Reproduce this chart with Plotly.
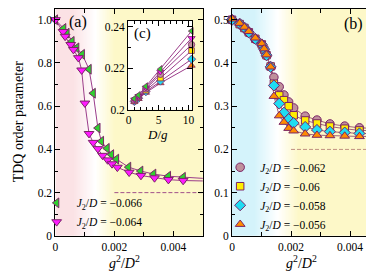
import numpy as np
import plotly.graph_objects as go

# ---------------- data ----------------
# panel (a): g^2/D^2 vs TDQ order parameter
a_x_066 = [0, 0.00028, 0.00039, 0.00056, 0.00072, 0.00091, 0.00114, 0.00128, 0.00144, 0.00156,
           0.00175, 0.0019, 0.00207, 0.00248, 0.00289, 0.00333, 0.00383, 0.00433]
a_y_066 = [1.0, 0.96, 0.938, 0.90, 0.87, 0.84, 0.771, 0.66, 0.499, 0.438,
           0.405, 0.376, 0.355, 0.318, 0.30, 0.286, 0.276, 0.271]
a_x_064 = [0, 0.00026, 0.00033, 0.00052, 0.00061, 0.00078, 0.00089, 0.001, 0.00114, 0.00128,
           0.00144, 0.0016, 0.00177, 0.00192, 0.0021, 0.0025, 0.0029, 0.00336, 0.00383, 0.00433]
a_y_064 = [1.0, 0.945, 0.923, 0.885, 0.862, 0.824, 0.767, 0.614, 0.473, 0.432,
           0.403, 0.372, 0.351, 0.333, 0.317, 0.294, 0.279, 0.268, 0.26, 0.256]
a_tail_x = 0.005
a_tail_y = {"066": 0.266, "064": 0.254}

# panel (b)
b_x = [0, 0.00026, 0.00042, 0.00057, 0.00079, 0.00101, 0.00109, 0.00117, 0.00131,
       0.00142, 0.0016, 0.00176, 0.00192, 0.00209, 0.00248, 0.00288, 0.00332, 0.00382, 0.00432]
b_y_062 = [0.5, 0.490, 0.481, 0.470, 0.455, 0.442, 0.431, 0.417, 0.392,
           0.367, 0.345, 0.326, 0.31, 0.296, 0.277, 0.268, 0.259, 0.254, 0.25]
b_y_060 = [0.5, 0.490, 0.481, 0.471, 0.456, 0.443, 0.431, 0.418, 0.392,
           0.352, 0.325, 0.314, 0.300, 0.279, 0.267, 0.26, 0.253, 0.248, 0.244]
b_y_058 = [0.5, 0.491, 0.482, 0.471, 0.456, 0.443, 0.432, 0.418, 0.391,
           0.348, 0.306, 0.285, 0.27, 0.261, 0.252, 0.245, 0.241, 0.239, 0.237]
b_y_056 = [0.502, 0.492, 0.483, 0.473, 0.458, 0.445, 0.433, 0.419, 0.391,
           0.323, 0.278, 0.263, 0.249, 0.243, 0.236, 0.233, 0.232, 0.231, 0.23]
b_tail_y = {"062": 0.248, "060": 0.243, "058": 0.236, "056": 0.230}

ref_x = [0.002, 0.005]
ref_y = [0.2, 0.2]

# inset (c): D/g
c_x = [0.94, 1.65, 2.87, 5.3, 10.5]
c_y_066 = [0.2053, 0.2070, 0.2112, 0.2195, 0.2378]
c_y_064 = [0.2048, 0.2065, 0.2105, 0.2182, 0.2344]
c_y_062 = [0.2045, 0.2062, 0.2100, 0.2170, 0.2313]
c_y_060 = [0.2042, 0.2058, 0.2093, 0.2152, 0.2284]
c_y_058 = [0.2040, 0.2055, 0.2087, 0.2138, 0.2243]
c_y_056 = [0.2038, 0.2052, 0.2082, 0.2128, 0.2212]

a_xticks = [0, 0.002, 0.004]
a_xticktext = ["0", "0.002", "0.004"]
a_yticks = [0, 0.2, 0.4, 0.6, 0.8, 1.0]
a_yticktext = ["0", "0.2", "0.4", "0.6", "0.8", "1.0"]
b_yticks = [0, 0.1, 0.2, 0.3, 0.4, 0.5]
b_yticktext = ["0", "0.1", "0.2", "0.3", "0.4", "0.5"]
c_xticks = [0, 5, 10]
c_yticks = [0.2, 0.22, 0.24]
c_yticktext = ["0.2", "0.22", "0.24"]

labels = {"066": "\u22120.066", "064": "\u22120.064", "062": "\u22120.062",
          "060": "\u22120.06", "058": "\u22120.058", "056": "\u22120.056"}

# ---------------- style ----------------
W, H = 374, 271
FONT = "Liberation Serif"
OUT = "#7a2466"
LINE_A = "#9b3d8a"
LINE_B = "#a0607a"

styles = {
    "066": dict(symbol="triangle-left", color="#2fd02f", size=8.5),
    "064": dict(symbol="triangle-down", color="#ff1aff", size=8.5),
    "062": dict(symbol="circle", color="#c0909c", size=8.5),
    "060": dict(symbol="square", color="#ffee00", size=7.5),
    "058": dict(symbol="diamond", color="#1fdcf2", size=8.5),
    "056": dict(symbol="triangle-up", color="#ff8c00", size=8.5),
}


def lbl(k):
    return "<i>J</i><sub>2</sub>/<i>D</i> = " + labels[k]


fig = go.Figure()

# gradient backgrounds
edges = np.linspace(0, 0.005, 251)
mids = (edges[:-1] + edges[1:]) / 2
pink, cyan, white, yellow = "#fbe2e5", "#d4f3fb", "#ffffff", "#fdf8c8"
fig.add_trace(go.Heatmap(x=edges, y=[0, 1.05], z=[mids], zmin=0, zmax=0.005,
                         colorscale=[[0, pink], [0.12, pink], [0.27, white], [0.40, yellow], [1, yellow]],
                         showscale=False, hoverinfo="skip", xaxis="x", yaxis="y"))
fig.add_trace(go.Heatmap(x=edges, y=[0, 0.525], z=[mids], zmin=0, zmax=0.005,
                         colorscale=[[0, cyan], [0.15, cyan], [0.31, white], [0.45, yellow], [1, yellow]],
                         showscale=False, hoverinfo="skip", xaxis="x2", yaxis="y2"))

# reference dashed lines
fig.add_trace(go.Scatter(x=ref_x, y=ref_y, mode="lines", line=dict(color="#a0508a", width=1, dash="4px,2px"),
                         showlegend=False, hoverinfo="skip", xaxis="x", yaxis="y"))
fig.add_trace(go.Scatter(x=ref_x, y=ref_y, mode="lines", line=dict(color="#c09080", width=1, dash="4px,2px"),
                         showlegend=False, hoverinfo="skip", xaxis="x2", yaxis="y2"))

# panel (a)
a_series = [("066", a_x_066, a_y_066), ("064", a_x_064, a_y_064)]
for k, xs, ys in a_series:
    fig.add_trace(go.Scatter(x=xs + [a_tail_x], y=ys + [a_tail_y[k]], mode="lines",
                             line=dict(color=LINE_A, width=1), showlegend=False,
                             xaxis="x", yaxis="y"))
for k, xs, ys in a_series:
    s = styles[k]
    fig.add_trace(go.Scatter(x=xs, y=ys, mode="markers", name=lbl(k), legend="legend",
                             marker=dict(symbol=s["symbol"], color=s["color"], size=s["size"],
                                         line=dict(color=OUT, width=1)),
                             cliponaxis=False, xaxis="x", yaxis="y"))

# panel (b)
b_series = [("062", b_y_062), ("060", b_y_060), ("058", b_y_058), ("056", b_y_056)]
for k, ys in b_series:
    fig.add_trace(go.Scatter(x=b_x + [a_tail_x], y=ys + [b_tail_y[k]], mode="lines",
                             line=dict(color=LINE_B, width=1), showlegend=False,
                             xaxis="x2", yaxis="y2"))
for k, ys in b_series:
    s = styles[k]
    fig.add_trace(go.Scatter(x=b_x, y=ys, mode="markers", name=lbl(k), legend="legend2",
                             marker=dict(symbol=s["symbol"], color=s["color"], size=s["size"],
                                         line=dict(color=OUT, width=1)),
                             cliponaxis=False, xaxis="x2", yaxis="y2"))

# inset (c)
c_series = [("056", c_y_056), ("058", c_y_058), ("060", c_y_060),
            ("062", c_y_062), ("064", c_y_064), ("066", c_y_066)]
for k, ys in c_series:
    s = styles[k]
    fig.add_trace(go.Scatter(x=c_x, y=ys, mode="lines+markers", showlegend=False,
                             line=dict(color=LINE_A, width=1),
                             marker=dict(symbol=s["symbol"], color=s["color"], size=s["size"] * 0.75,
                                         line=dict(color=OUT, width=0.8)),
                             cliponaxis=False, xaxis="x3", yaxis="y3"))


def px(v):
    return v / W


def py(v):
    return 1 - v / H


axis_common = dict(showline=True, linecolor="black", linewidth=1, mirror="ticks",
                   ticks="inside", ticklen=5, tickcolor="black", tickwidth=1,
                   showgrid=False, zeroline=False,
                   tickfont=dict(family=FONT, size=11.5, color="black"))


def ann(text, x, y, size, xref="paper", **kw):
    return dict(text=text, xref=xref, yref="paper", x=x, y=y, xanchor="center", yanchor="middle",
                showarrow=False, font=dict(family=FONT, size=size, color="black"), **kw)


gtitle = "<i>g</i><sup>2</sup>/<i>D</i><sup>2</sup>"

fig.update_layout(
    width=W, height=H, margin=dict(l=0, r=0, t=0, b=0),
    paper_bgcolor="white", plot_bgcolor="white",
    font=dict(family=FONT, color="black"),
    xaxis=dict(domain=[px(45), px(194.5)], range=[0, 0.005], anchor="y",
               tickmode="array", tickvals=a_xticks, ticktext=a_xticktext,
               minor=dict(tickmode="linear", tick0=0, dtick=0.001, ticks="inside", ticklen=4, tickcolor="black"),
               **axis_common),
    yaxis=dict(domain=[py(233), py(1)], range=[0, 1.05], anchor="x",
               tickmode="array", tickvals=a_yticks, ticktext=a_yticktext,
               minor=dict(tickmode="linear", tick0=0, dtick=0.1, ticks="inside", ticklen=3, tickcolor="black"),
               **axis_common),
    xaxis2=dict(domain=[px(224), px(373.5)], range=[0, 0.005], anchor="y2",
                tickmode="array", tickvals=a_xticks, ticktext=a_xticktext,
                minor=dict(tickmode="linear", tick0=0, dtick=0.001, ticks="inside", ticklen=4, tickcolor="black"),
                **axis_common),
    yaxis2=dict(domain=[py(233), py(1)], range=[0, 0.525], anchor="x2",
                tickmode="array", tickvals=b_yticks, ticktext=b_yticktext,
                minor=dict(tickmode="linear", tick0=0, dtick=0.05, ticks="inside", ticklen=3, tickcolor="black"),
                **axis_common),
    xaxis3=dict(domain=[px(118.7), px(183.6)], range=[-0.1, 10.6], anchor="y3",
                tickmode="array", tickvals=c_xticks,
                minor=dict(tickmode="linear", tick0=0, dtick=1, ticks="inside", ticklen=3, tickcolor="black"),
                **axis_common),
    yaxis3=dict(domain=[py(104), py(13)], range=[0.2, 0.2428], anchor="x3",
                tickmode="array", tickvals=c_yticks, ticktext=c_yticktext,
                minor=dict(tickmode="linear", tick0=0.2, dtick=0.01, ticks="inside", ticklen=3, tickcolor="black"),
                **axis_common),
    legend=dict(x=px(26), y=py(209), xanchor="left", yanchor="middle",
                bgcolor="rgba(0,0,0,0)", font=dict(family=FONT, size=11.5, color="black"),
                itemwidth=30, tracegroupgap=0),
    legend2=dict(x=px(212), y=py(192), xanchor="left", yanchor="middle",
                 bgcolor="rgba(0,0,0,0)", font=dict(family=FONT, size=11.5, color="black"),
                 itemwidth=30, tracegroupgap=0),
    annotations=[
        ann(gtitle, 0.47, py(260), 14, xref="x domain"),
        ann(gtitle, 0.47, py(260), 14, xref="x2 domain"),
        ann("<i>D</i>/<i>g</i>", px(148), py(129), 13),
        ann("TDQ order parameter", px(8), py(116), 14, textangle=-90),
        ann("(a)", px(68), py(14), 16),
        ann("(b)", px(347), py(16), 16),
        ann("(c)", px(133), py(26), 15),
    ],
)

fig.write_html("out.html")
